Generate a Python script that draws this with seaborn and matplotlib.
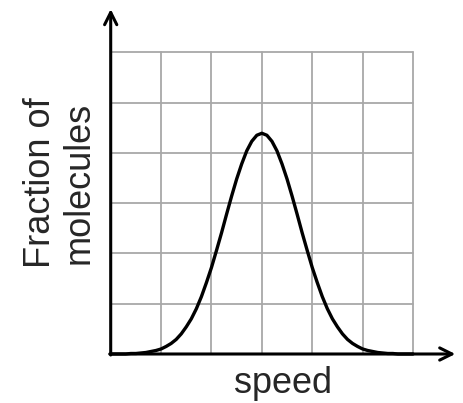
import matplotlib
matplotlib.use("Agg")
import matplotlib.pyplot as plt
import pandas as pd
import seaborn as sns

# speed (grid units) and fraction of molecules (grid units)
speed = [0.0, 0.1, 0.2, 0.3, 0.4, 0.5, 0.6, 0.7, 0.8, 0.9,
         1.0, 1.1, 1.2, 1.3, 1.4, 1.5, 1.6, 1.7, 1.8, 1.9,
         2.0, 2.1, 2.2, 2.3, 2.4, 2.5, 2.6, 2.7, 2.8, 2.9,
         3.0, 3.1, 3.2, 3.3, 3.4, 3.5, 3.6, 3.7, 3.8, 3.9,
         4.0, 4.1, 4.2, 4.3, 4.4, 4.5, 4.6, 4.7, 4.8, 4.9,
         5.0, 5.1, 5.2, 5.3, 5.4, 5.5, 5.6, 5.7, 5.8, 5.9, 6.0]
fraction = [0.00, 0.00, 0.00, 0.00, 0.01, 0.01, 0.02, 0.03, 0.05, 0.07,
            0.10, 0.15, 0.21, 0.29, 0.40, 0.54, 0.70, 0.90, 1.14, 1.42,
            1.72, 2.06, 2.41, 2.78, 3.14, 3.48, 3.78, 4.04, 4.23, 4.35,
            4.39, 4.35, 4.23, 4.04, 3.78, 3.48, 3.14, 2.78, 2.41, 2.06,
            1.72, 1.42, 1.14, 0.90, 0.70, 0.54, 0.40, 0.29, 0.21, 0.15,
            0.10, 0.07, 0.05, 0.03, 0.02, 0.01, 0.01, 0.00, 0.00, 0.00, 0.00]
grid_ticks = [0, 1, 2, 3, 4, 5, 6]

df = pd.DataFrame({"speed": speed, "fraction": fraction})

sns.set_style("white")
plt.rcParams["font.family"] = ["Liberation Sans", "DejaVu Sans"]

fig = plt.figure(figsize=(4.63, 4.03), dpi=100)
ax = fig.add_axes([110.7 / 463, 49 / 403, 302.3 / 463, 301.7 / 403])

ax.set_xlim(0, 6)
ax.set_ylim(0, 6)
ax.set_xticks(grid_ticks)
ax.set_yticks(grid_ticks)
ax.set_xticklabels([])
ax.set_yticklabels([])
ax.tick_params(length=0)
ax.grid(True, color="#a8a8a8", lw=1.3)
for gl in ax.get_xgridlines() + ax.get_ygridlines():
    gl.set_clip_on(False)
for s in ax.spines.values():
    s.set_visible(False)

sns.lineplot(data=df, x="speed", y="fraction", color="black", lw=2.4, ax=ax, clip_on=False, zorder=5)
ax.set_xlabel("")
ax.set_ylabel("")

# axis arrows
arrow = dict(arrowstyle="->", lw=2.2, color="black", mutation_scale=22, shrinkA=0, shrinkB=0)
ax.annotate("", xy=(6.84, 0), xytext=(-0.02, 0), arrowprops=arrow, annotation_clip=False)
ax.annotate("", xy=(0, 6.86), xytext=(0, -0.02), arrowprops=arrow, annotation_clip=False)

fig.text(60 / 463, 1 - 183 / 403, "Fraction of\nmolecules", rotation=90,
         ha="center", va="center", fontsize=26, linespacing=1.15)
fig.text(283 / 463, 1 - 393 / 403, "speed", ha="center", va="baseline", fontsize=26)

fig.savefig("out.png", dpi=100)
